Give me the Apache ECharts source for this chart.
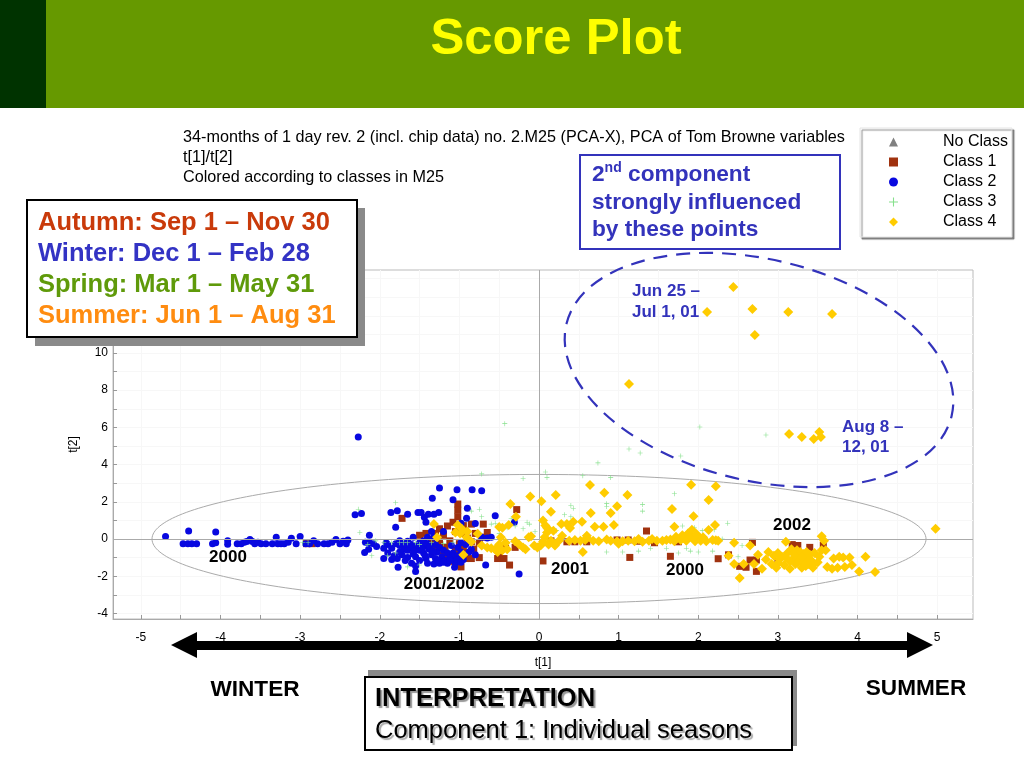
<!DOCTYPE html>
<html><head><meta charset="utf-8">
<style>html,body{margin:0;padding:0;background:#fff}#c{width:1024px;height:768px}</style>
<script src="https://cdn.jsdelivr.net/npm/echarts@6/dist/echarts.min.js"></script></head>
<body><div id="c"></div>
<script>
const xMajorTicks=[-5,-4,-3,-2,-1,0,1,2,3,4,5];
const xAllTicks=[-5,-4.5,-4,-3.5,-3,-2.5,-2,-1.5,-1,-.5,0,.5,1,1.5,2,2.5,3,3.5,4,4.5,5];
const yMajorTicks=[-4,-2,0,2,4,6,8,10,12,14];
const yAllTicks=[-4,-3,-2,-1,0,1,2,3,4,5,6,7,8,9,10,11,12,13,14];
const ellipseT2=[[0,0,4.86,3.47]];
const noClass=[];
const class1=[[-1.72,1.11],[-1.02,1.88],[-1.02,1.55],[-1.02,1.2],[-.28,1.58],[-.7,.8],[-1.08,.9],[-.95,.72],[-.85,.8],[-1.25,.55],[-1.15,.7],[-1.3,.3],[-1.42,.3],[-1.5,.2],[-1.2,.2],[-1.05,.4],[-.95,.3],[-.8,.3],[-.65,.35],[-.72,.1],[-.9,.05],[-1.35,-.1],[-1.25,-.2],[-1.12,-.1],[-1,-.25],[-.85,-.15],[-.75,-.2],[-1.45,-.35],[-1.3,-.5],[-1.18,-.45],[-1.05,-.6],[-.95,-.5],[-.82,-.55],[-1.2,-.85],[-1.05,-.95],[-.92,-1.05],[-.85,-1.05],[-.75,-1],[-.98,-1.5],[-1.1,-1.2],[-.52,-1.05],[-.44,-1.05],[-.37,-1.4],[-.42,-.5],[-.5,-.7],[-.3,-.45],[-2.92,-.25],[-2.85,-.25],[.05,-1.18],[1.35,.43],[1.14,-.99],[1.65,-.93],[2.25,-1.06],[2.68,-.18],[2.65,-1.13],[2.73,-1.13],[2.52,-1.47],[2.6,-1.52],[2.73,-1.74],[.15,-.1],[.35,-.15],[.45,-.15],[.6,-.15],[.98,-.05],[1.12,-.05],[1.25,-.12],[1.45,-.2],[3.18,-.3],[3.25,-.35],[3.4,-.45],[3.57,-.35],[3.0,-1.2],[2.38,-.85],[1.75,-.15]];
const class2=[[-4.69,.14],[-4.4,.43],[-4.06,.38],[-4.47,-.25],[-4.41,-.25],[-4.36,-.25],[-4.3,-.25],[-4.1,-.25],[-4.06,-.2],[-3.91,-.1],[-3.91,-.28],[-3.79,-.25],[-3.74,-.25],[-3.7,-.18],[-3.67,-.13],[-3.63,-.02],[-3.6,-.13],[-3.57,-.25],[-3.53,-.18],[-3.49,-.25],[-3.43,-.25],[-3.35,-.25],[-3.3,.09],[-3.28,-.25],[-3.24,-.25],[-3.2,-.25],[-3.15,-.18],[-3.11,.04],[-3.05,-.25],[-3,.14],[-2.93,-.25],[-2.88,-.25],[-2.83,-.1],[-2.78,-.25],[-2.7,-.25],[-2.65,-.25],[-2.6,-.18],[-2.55,-.02],[-2.5,-.25],[-2.46,-.12],[-2.42,-.25],[-2.4,-.05],[-2.31,1.3],[-2.23,1.37],[-2.13,.2],[-2.18,-.18],[-2.13,-.2],[-2.08,-.25],[-2.04,-.4],[-2.14,-.55],[-2.19,-.72],[-2.27,5.48],[-1.25,2.74],[-1.03,2.65],[-.84,2.65],[-.72,2.6],[-1.34,2.19],[-1.08,2.11],[-.9,1.65],[-1.86,1.43],[-1.78,1.52],[-1.65,1.33],[-1.52,1.43],[-1.48,1.43],[-1.39,1.33],[-1.32,1.33],[-1.26,1.43],[-1.44,1.17],[-1.42,.9],[-1.8,.63],[-.91,1.11],[-.8,.84],[-.55,1.25],[-.31,.9],[-.25,-1.88],[-.67,-1.4],[-1.06,-1.52],[-1.55,-1.74],[-1.77,-1.52],
[-1.9,-.3],[-1.85,-.5],[-1.95,-.5],[-1.9,-.75],[-1.95,-1.05],[-1.85,-1.1],[-1.8,-.25],[-1.75,-.35],[-1.7,-.55],[-1.72,-.85],[-1.78,-1.05],[-1.65,-.6],[-1.65,-1],[-1.6,-.3],[-1.58,-.8],[-1.55,-.45],[-1.55,-.95],[-1.6,-1.3],[-1.5,-.2],[-1.5,-.6],[-1.5,-1.15],[-1.55,-1.45],[-1.45,-.1],[-1.45,-.4],[-1.45,-.75],[-1.42,-1.05],[-1.4,.1],[-1.4,-.25],[-1.38,-.55],[-1.35,-.85],[-1.4,-1.3],[-1.35,.4],[-1.32,.1],[-1.3,-.3],[-1.28,-.7],[-1.3,-1.05],[-1.32,-1.35],[-1.25,-.45],[-1.22,-.95],[-1.25,-1.3],[-1.2,-.6],[-1.18,-1.15],[-1.15,-.75],[-1.15,-1.3],[-1.12,-1],[-1.1,-.35],[-1.08,-.75],[-1.08,-1.1],[-1.05,-1.3],[-1.02,-.45],[-1.02,-.9],[-.98,-.2],[-.98,-.7],[-.95,-1.1],[-.92,-.3],[-.88,-.7],[-.85,-.55],[-.8,-.85],[-.72,.1],[-.65,.05],[-.6,.1],[-1.58,.1],[-1.65,-.12],[-1.75,-.1],[-.98,.85],[-1,.4],[-1.2,.4],[-1.92,-.2],[-1.68,-.25],[-1.62,-.45],[-1.57,-.65],[-1.47,-.55],[-1.43,-.9],[-1.37,-.4],[-1.33,-.65],[-1.27,-1.15],[-1.12,-1.15],[-1.03,-1.1],[-1.75,-.7],[-1.82,-.9],[-1.68,-1.15],[-1.52,-.35],[-.98,-1.25],[-1.2,-1.25]];
const class3=[[-.43,6.2],[2.02,6.02],[2.85,5.59],[1.13,4.84],[1.27,4.62],[1.78,4.46],[.74,4.09],[.55,3.4],[-.2,3.25],[.1,3.3],[-.72,3.5],[-1.8,1.95],[-2.27,1.6],[-2.25,.35],[-2.1,-.9],[-2.15,-.3],[-2.05,-.1],[-1.95,-.2],[-1.85,-.2],[-1.75,-.2],[-1.7,-.2],[-1.65,-.2],[-1.55,-.2],[-1.5,-.3],[-1.8,-.75],[-1.9,-.9],[-1.65,-1.5],[-1.5,-1.4],[-2.9,-.2],[-2.97,-.2],[-1.35,-.2],[-1.2,-.25],[-1.08,-.2],[-.9,.15],[-.85,1.5],[-.75,1.6],[-.6,.8],[-.55,.85],[-.4,.6],[-.3,.7],[-.2,.55],[-.15,.9],[-.12,.8],[-.05,.4],[-.35,1.1],[-.5,.3],[-.72,1.2],[.22,.45],[.12,.55],[.32,1.3],[.4,1.2],[.43,1.65],[.4,1.8],[.85,1.9],[.85,1.75],[1.3,1.85],[1.3,1.5],[1.7,2.43],[1.25,-.65],[1.05,-.7],[.85,-.7],[1.4,-.5],[1.6,-.5],[1.75,-.75],[1.85,-.5],[2.0,-.7],[2.18,-.65],[2.3,0],[2.37,.85],[2.2,.5],[1.8,.7],[1.95,.6],[2.05,.45],[2.5,-.95],[2.55,-.35],[1.9,-.65],[.08,3.6],[.9,3.3]];
const class4=[[2.44,13.55],[2.11,12.2],[2.68,12.37],[3.13,12.2],[3.68,12.1],[2.71,10.97],[1.13,8.33],[3.14,5.65],[3.3,5.48],[3.45,5.38],[3.52,5.75],[3.54,5.48],[.64,2.9],[.82,2.49],[1.11,2.37],[.21,2.37],[.03,2.03],[.15,1.47],[.65,1.4],[.98,1.76],[.9,1.4],[1.91,2.92],[2.22,2.83],[2.13,2.1],[1.67,1.61],[1.94,1.22],[.54,.93],[.43,.93],[.28,.81],[.35,.81],[.39,.59],[.7,.66],[.81,.66],[.94,.75],[1.7,.66],[2.21,.75],[2.13,.48],[.29,.18],[.6,.18],[.08,.72],[.05,.99],[-.11,2.29],[-.36,1.88],[-.29,1.2],[4.98,.55],
[.15,-.1],[.12,-.3],[.2,-.35],[.25,-.1],[.38,-.1],[.45,-.05],[.52,-.1],[.58,-.05],[.6,.05],[.68,-.1],[.75,-.12],[.85,-.02],[.9,-.1],[.98,-.12],[1,-.25],[1.05,-.12],[1.12,-.1],[1.2,-.12],[1.25,0],[1.3,-.15],[1.38,-.1],[1.42,0],[1.48,-.1],[1.55,-.1],[1.6,-.05],[1.65,-.02],[1.7,-.12],[1.72,.12],[1.78,-.05],[1.8,.2],[1.82,.05],[1.85,-.1],[1.87,.3],[1.9,.15],[1.92,.5],[1.94,.05],[1.96,-.12],[1.98,.25],[2,.05],[2.03,-.1],[2.06,.1],[2.1,-.12],[.55,-.7],[2.22,-.07],[2.18,-.05],[2.25,-.1],[2.45,-.2],[2.65,-.35],
[-1.32,.8],[-1.28,.1],[-1.02,.75],[-.97,.55],[-1.05,.35],[-.99,.3],[-.9,.4],[-.91,.1],[-.85,-.15],[-.77,.28],[-.72,-.35],[-.65,-.45],[-.6,-.5],[-.55,-.55],[-.52,-.7],[-.5,-.3],[-.48,.1],[-.46,-.6],[-.42,-.2],[-.4,-.55],[-.95,-.85],[-.5,.65],[-.46,.6],[-.38,.75],[-.3,-.12],[-.25,-.3],[-.2,-.45],[-.17,-.55],[-.13,.1],[-.1,.15],[-.06,-.35],[-.02,-.45],[.02,-.35],[.05,-.15],[.07,.1],[.1,.35],[.1,.6],[.12,.5],[.18,.45],
[2.38,-.9],[2.45,-1.35],[2.57,-1.35],[2.52,-2.1],[2.75,-.85],[2.7,-1.35],[2.8,-1.6],[2.85,-1.1],[2.88,-.7],[2.92,-1.35],[2.95,-.9],[2.98,-1.55],[3,-.75],[3.02,-1.1],[3.05,-.95],[3.08,-1.4],[3.1,-.15],[3.12,-.75],[3.15,-1.6],[3.17,-.55],[3.18,-1.1],[3.2,-.8],[3.22,-1.35],[3.24,-.6],[3.26,-1],[3.28,-.7],[3.3,-1.55],[3.3,-1.25],[3.32,-.8],[3.35,-1.05],[3.36,-.7],[3.38,-1.35],[3.4,-.85],[3.42,-1.15],[3.44,-1.55],[3.46,-.75],[3.5,-1.25],[3.52,-.95],[3.55,-.6],[3.55,.15],[3.58,-.1],[3.6,-.6],[3.62,-1.5],[3.68,-1.6],[3.7,-1.05],[3.75,-1.55],[3.77,-.95],[3.82,-1],[3.84,-1.5],[3.9,-1],[3.93,-1.4],[4.02,-1.75],[4.1,-.95],[4.22,-1.78],[3,-1.3],[3.1,-1],[3.25,-1.25],[3.35,-1.45],[3.15,-1.2],[3.45,-1.35],[3.3,-.95]];
const headerTitle="Score Plot";
const subtitleLines=["34-months of 1 day rev. 2 (incl. chip data) no. 2.M25 (PCA-X), PCA of Tom Browne variables","t[1]/t[2]","Colored according to classes in M25"];
const seasonLines=[["Autumn: Sep 1 – Nov 30","#c93a0a"],["Winter: Dec 1 – Feb 28","#3333c4"],["Spring: Mar 1 – May 31","#5f9a0a"],["Summer: Jun 1 – Aug 31","#ff8c10"]];
const plotLabels=[["2000",228,557],["2001/2002",444,584],["2001",570,569],["2000",685,570],["2002",792,525]];

const FONT='"Liberation Sans",Arial,sans-serif';
const BLUE='#3333bb';
const txt=(x,y,text,s)=>{const st=Object.assign({text,fontFamily:FONT,fontSize:14,fill:'#000',verticalAlign:'middle',align:'left'},s||{});return {type:'text',z:100,x,y:y+st.fontSize*0.08,style:st};};
const graphics=[
 {type:'rect',z:90,shape:{x:0,y:0,width:1024,height:108},style:{fill:'#669900'}},
 {type:'rect',z:91,shape:{x:0,y:0,width:46,height:108},style:{fill:'#003300'}},
 txt(556,36,headerTitle,{fontSize:50.8,fontWeight:'bold',fill:'#ffff00',align:'center'}),
 ...subtitleLines.map((t,i)=>txt(183,136.5+i*20,t,{fontSize:16.2})),
 {type:'rect',z:95,shape:{x:35,y:208,width:330,height:138},style:{fill:'#8a8a8a'}},
 {type:'rect',z:96,shape:{x:27,y:200,width:330,height:137},style:{fill:'#fff',stroke:'#000',lineWidth:2}},
 ...seasonLines.map((l,i)=>txt(38,221+i*31,l[0],{fontSize:25.5,fontWeight:'bold',fill:l[1]})),
 {type:'rect',z:96,shape:{x:580,y:155,width:260,height:94},style:{fill:'#fff',stroke:BLUE,lineWidth:2}},
 {type:'text',z:100,x:592,y:161,style:{text:'{b|2}{s|nd}{b| component}\n{b|strongly influenced}\n{b|by these points}',fontFamily:FONT,fill:BLUE,rich:{b:{fontFamily:FONT,fontSize:22.7,fontWeight:'bold',fill:BLUE,lineHeight:27.5},s:{fontFamily:FONT,fontSize:14,fontWeight:'bold',fill:BLUE,verticalAlign:'top',lineHeight:27.5,padding:[0,0,6,0]}}}},
 {type:'ellipse',z:100,x:759,y:370,rotation:-0.234,shape:{cx:0,cy:0,rx:198,ry:110.7},style:{fill:'none',stroke:BLUE,lineWidth:2.2,lineDash:[14,9]}},
 txt(632,290,'Jun 25 –',{fontSize:17,fontWeight:'bold',fill:BLUE}),
 txt(632,311,'Jul 1, 01',{fontSize:17,fontWeight:'bold',fill:BLUE}),
 txt(842,426,'Aug 8 –',{fontSize:17,fontWeight:'bold',fill:BLUE}),
 txt(842,446,'12, 01',{fontSize:17,fontWeight:'bold',fill:BLUE}),
 ...plotLabels.map(l=>txt(l[1],l[2]-1,l[0],{fontSize:17,fontWeight:'bold',align:'center'})),
 {type:'polygon',z:100,shape:{points:[[171,645],[197,632],[197,641],[907,641],[907,632],[933,645],[907,658],[907,650],[197,650],[197,658]]},style:{fill:'#000'}},
 txt(255,688,'WINTER',{fontSize:22.6,fontWeight:'bold',align:'center'}),
 txt(916,687,'SUMMER',{fontSize:22.6,fontWeight:'bold',align:'center'}),
 {type:'rect',z:95,shape:{x:368,y:670,width:429,height:76},style:{fill:'#8a8a8a'}},
 {type:'rect',z:96,shape:{x:365,y:677,width:427,height:73},style:{fill:'#fff',stroke:'#000',lineWidth:2}},
 txt(375,697,'INTERPRETATION',{fontSize:25.5,fontWeight:'bold',textShadowColor:'#999',textShadowOffsetX:2,textShadowOffsetY:2,textShadowBlur:1}),
 txt(375,729,'Component 1: Individual seasons',{fontSize:25.5,textShadowColor:'#aaa',textShadowOffsetX:2,textShadowOffsetY:2,textShadowBlur:1})
];
const plus='path://M4.4,0H5.6V4.4H10V5.6H5.6V10H4.4V5.6H0V4.4H4.4Z';
const axisCommon={axisLine:{show:true,onZero:false,lineStyle:{color:'#aaa'}},axisTick:{show:true,inside:true,length:4,lineStyle:{color:'#999'}},splitLine:{show:true,lineStyle:{color:'#f7f7f7',width:1}},axisLabel:{color:'#000',fontFamily:FONT,fontSize:12,hideOverlap:false}};
const chart=echarts.init(document.getElementById('c'),null,{renderer:'canvas'});
chart.setOption({
 animation:false,
 backgroundColor:'#fff',
 textStyle:{fontFamily:FONT},
 graphic:graphics,
 grid:{left:113,top:270,width:860,height:349,show:true,borderColor:'#bbb',borderWidth:1,backgroundColor:'transparent'},
 legend:{show:true,orient:'vertical',left:860,top:128,height:160,padding:[6,4,7,29],backgroundColor:'#fff',borderColor:'#e4e4e4',borderWidth:1,shadowColor:'rgba(110,110,110,.8)',shadowBlur:1,shadowOffsetX:2,shadowOffsetY:2,itemGap:4,itemWidth:9,itemHeight:9,selectedMode:false,align:'left',
  textStyle:{fontFamily:FONT,fontSize:16,color:'#000',lineHeight:14,padding:[0,0,0,40]},
  data:['No Class','Class 1','Class 2','Class 3','Class 4']},
 xAxis:{type:'value',min:-5.35,max:5.45,position:'bottom',name:'t[1]',nameLocation:'middle',nameGap:38,nameTextStyle:{color:'#000',fontSize:12,fontFamily:FONT},
  axisLine:axisCommon.axisLine,axisTick:Object.assign({},axisCommon.axisTick,{customValues:xAllTicks}),splitLine:axisCommon.splitLine,axisLabel:Object.assign({},axisCommon.axisLabel,{margin:13,customValues:xMajorTicks})},
 yAxis:{type:'value',min:-4.3,max:14.46,name:'t[2]',nameLocation:'middle',nameGap:33,nameTextStyle:{color:'#000',fontSize:12,fontFamily:FONT},
  axisLine:axisCommon.axisLine,axisTick:Object.assign({},axisCommon.axisTick,{customValues:yAllTicks}),splitLine:axisCommon.splitLine,axisLabel:Object.assign({},axisCommon.axisLabel,{margin:5,customValues:yMajorTicks})},
 series:[
  {type:'custom',name:'T2',silent:true,z:1,data:ellipseT2,coordinateSystem:'cartesian2d',clip:true,
   renderItem:(p,api)=>{const c=api.coord([api.value(0),api.value(1)]);const s=api.size([api.value(2),api.value(3)]);
    return {type:'ellipse',shape:{cx:c[0],cy:c[1],rx:s[0],ry:s[1]},style:{fill:'none',stroke:'#aaa',lineWidth:1}};},
   markLine:{silent:true,symbol:'none',label:{show:false},lineStyle:{color:'#aaa',width:1,type:'solid'},data:[{xAxis:0},{yAxis:0}]}},
  {type:'scatter',name:'No Class',data:noClass,symbol:'triangle',symbolSize:7,itemStyle:{color:'#808080',opacity:1},z:2},
  {type:'scatter',name:'Class 1',data:class1,symbol:'rect',symbolSize:7,itemStyle:{color:'#a0320f',opacity:1},z:3},
  {type:'scatter',name:'Class 2',data:class2,symbol:'circle',symbolSize:7,itemStyle:{color:'#0808e0',opacity:1},z:4},
  {type:'scatter',name:'Class 3',data:class3,symbol:plus,symbolSize:5,itemStyle:{color:'#86e08c',opacity:1},z:5},
  {type:'scatter',name:'Class 4',data:class4,symbol:'diamond',symbolSize:10,itemStyle:{color:'#ffcc00',opacity:1},z:6}
 ]
});
</script></body></html>
